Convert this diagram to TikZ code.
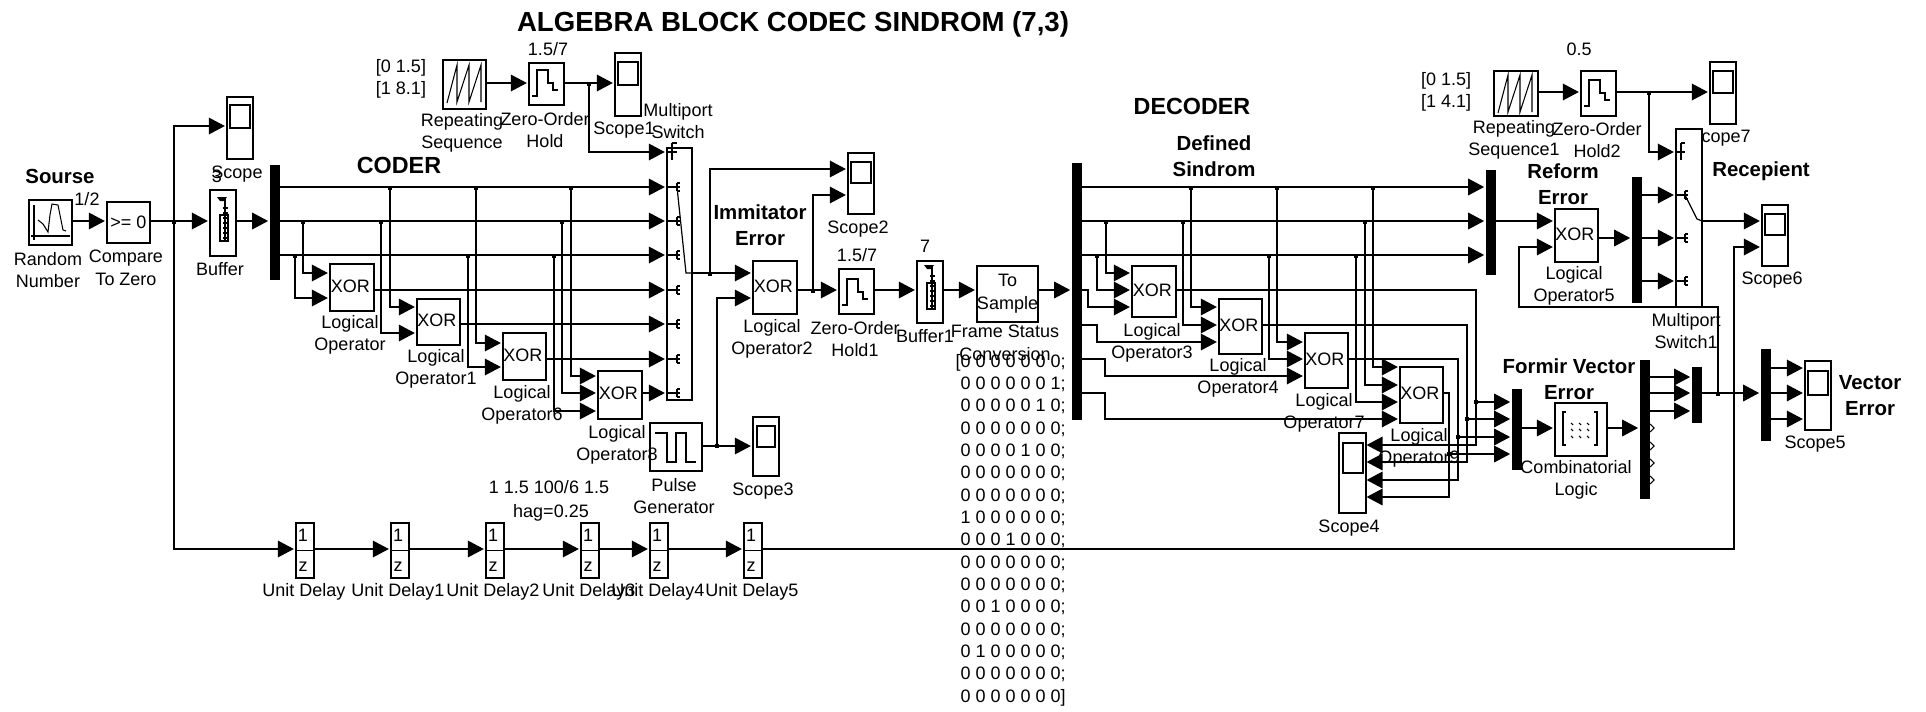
\documentclass[tikz,border=0pt]{standalone}
\usepackage{fontspec}
\setmainfont{Liberation Sans}
\usetikzlibrary{arrows.meta}
\tikzset{
  box/.style={draw=black,fill=white,line width=.85pt,inner sep=0pt,font=\fontsize{13.5}{17}\selectfont,align=center},
  barb/.style={draw=none,fill=black,inner sep=0pt},
  lbl/.style={inner sep=0pt,align=center,font=\fontsize{13.5}{17}\selectfont},
  blbl/.style={inner sep=0pt,align=center,font=\fontsize{15.3}{19.5}\selectfont\bfseries},
  conn/.style={line width=.9pt},
  arr/.style={conn,-{Triangle[length=12pt,width=12.5pt]},shorten >=1.2pt},
  jun/.style={fill=black,draw=none,inner sep=0pt,minimum size=3.4pt,rectangle},
  icon/.style={line width=.8pt},
}
\newcommand{\blk}[6][]{\pgfmathsetmacro\bw{(#5-#3)*0.75}\pgfmathsetmacro\bh{(#6-#4)*0.75}%
  \node[box,minimum width=\bw pt,minimum height=\bh pt] (#2) at ({(#3+#5)/2},{(#4+#6)/2}) {#1};}
\newcommand{\vbar}[5]{\pgfmathsetmacro\bw{(#4-#2)*0.75}\pgfmathsetmacro\bh{(#5-#3)*0.75}%
  \node[barb,minimum width=\bw pt,minimum height=\bh pt] (#1) at ({(#2+#4)/2},{(#3+#5)/2}) {};}
\newcommand{\jn}[3]{\node[jun] (#1) at (#2,#3) {};}
\newcommand{\xorl}{\raisebox{2.5pt}{XOR\hspace{2.5pt}}}
\newcommand{\sawicon}[2]{\draw[icon,shift={(#1,#2)}] (4,43)--(14,5)--(14,42)--(26,5)--(26,42)--(38,5)--(38,42);}
\newcommand{\zohicon}[2]{\draw[icon,shift={(#1,#2)}] (3,33)--(8,33)--(8,7)--(19,7)--(19,20)--(24,20)--(24,27)--(29,27);}
\newcommand{\bufficon}[2]{\begin{scope}[shift={(#1,#2)},icon]
  \draw (10,25) rectangle (18,51); \draw (15,8)--(15,50);
  \fill (7,7)--(17,7)--(14,11)--(10,11)--cycle;
  \foreach \t in {18,23,...,48}{\draw (13,\t)--(18,\t);}
\end{scope}}
\newcommand{\portmk}[2]{\draw[icon] (#1,#2-4)--(#1,#2+4) (#1,#2-4)--(#1+3,#2-4) (#1,#2)--(#1+3,#2) (#1,#2+4)--(#1+3,#2+4);}
\begin{document}
\begin{tikzpicture}[x=0.75pt,y=-0.75pt]
\useasboundingbox (0,0) rectangle (1926,711);
\foreach \v in {49,83,92,126,152,169,187,195,221,238,247,255,273,281,290,298,307,324,325,333,342,343,359,367,373,376,385,393,402,411,419,428,437,445,446,454,462,480,497,549,368,377}{\coordinate (r\v) at (0,\v);}

% --- labels that lie under blocks ---
\node[lbl] (lScope7) at (1720,138) {Scope7};

% --- blocks: coder ---
\blk{rn}{29}{200}{72}{245}
\blk[\raisebox{1pt}{>= 0}]{cz}{107}{202}{150}{243}
\blk{sc}{227}{97}{253}{159}
\blk{sci}{230}{105}{250}{128}
\blk{buf}{210}{190}{236}{256}
\vbar{dm1}{270}{165}{280}{280}
\blk[\xorl]{x1}{330}{264}{374}{311}
\blk[\xorl]{x2}{417}{299}{460}{345}
\blk[\xorl]{x6}{503}{333}{546}{380}
\blk[\xorl]{x8}{598}{371}{642}{419}
\blk{sw}{667}{148}{692}{400}
\blk{rs}{443}{60}{486}{109}
\blk{zh}{529}{63}{564}{105}
\blk{sc1}{615}{53}{641}{116}
\blk{sc1i}{618}{62}{638}{85}
\blk{sc2}{848}{153}{874}{214}
\blk{sc2i}{851}{162}{871}{183}
\blk[\xorl]{x2b}{753}{261}{797}{314}
\blk{zh1}{839}{269}{874}{314}
\blk{buf1}{917}{261}{943}{323}
\blk[{To\\Sample}]{ts}{977}{266}{1038}{322}
\blk{pg}{650}{423}{702}{471}
\blk{sc3}{753}{417}{779}{476}
\blk{sc3i}{757}{426}{775}{447}
\foreach \i/\xa in {1/296,2/391,3/486,4/581,5/650,6/744}{
  \pgfmathsetmacro\xb{\xa+18}
  \blk{ud\i}{\xa}{523}{\xb}{578}
  \draw[icon] (ud\i.west)--(ud\i.east);
  \node[lbl] (ud\i n) at (\xa+7,535) {1};
  \node[lbl] (ud\i d) at (\xa+7,567) {z};
}
% --- blocks: decoder ---
\vbar{dm2}{1072}{163}{1082}{420}
\vbar{mx3}{1486}{170}{1496}{275}
\blk[\xorl]{x3}{1132}{266}{1176}{317}
\blk[\xorl]{x4}{1219}{299}{1262}{354}
\blk[\xorl]{x7}{1305}{333}{1348}{388}
\blk[\xorl]{x9}{1400}{367}{1443}{423}
\blk{sc4}{1339}{433}{1366}{513}
\blk{sc4i}{1343}{443}{1363}{473}
\vbar{mx4}{1512}{389}{1522}{470}
\blk{cl}{1555}{403}{1607}{456}
\vbar{dm4}{1640}{360}{1650}{499}
\vbar{mx5}{1692}{367}{1702}{423}
\vbar{dm5}{1761}{349}{1771}{441}
\blk{sc5}{1805}{361}{1831}{430}
\blk{sc5i}{1808}{371}{1828}{395}
\blk{rs2}{1494}{71}{1538}{116}
\blk{zh2}{1581}{71}{1616}{116}
\blk{sc7}{1710}{62}{1736}{124}
\blk{sc7i}{1713}{71}{1733}{93}
\blk{sw1}{1676}{129}{1702}{307}
\blk[\xorl]{x5}{1555}{209}{1598}{262}
\vbar{dm6}{1632}{177}{1642}{303}
\blk{sc6}{1762}{205}{1788}{266}
\blk{sc6i}{1765}{214}{1785}{235}

% --- icons ---
\draw[icon] (34,205)--(34,240) (31,236)--(70,236);
\draw[icon] (38,220)--(43,224)--(48,232)--(50,215)--(52,204)--(58,205)--(60,215)--(63,230)--(66,231);
\sawicon{443}{60}
\sawicon{1494}{70}
\zohicon{529}{63}
\zohicon{839}{272}
\zohicon{1581}{73}
\bufficon{210}{190}
\bufficon{917}{258}
\draw[icon] (655,433)--(667,433)--(667,462)--(676,462)--(676,433)--(686,433)--(686,462)--(696,462);
\draw[icon] (1566,412)--(1563,412)--(1563,445)--(1566,445) (1594,412)--(1597,412)--(1597,445)--(1594,445);
\foreach \dx in {1571,1579,1587}{\foreach \dy in {423,429,436}{\draw[icon] (\dx,\dy)--(\dx+2,\dy+2);}}

% --- switch internals ---
\draw[icon] (672,143)--(672,160) (672,143)--(677,143) (667,152)--(677,152);
\foreach \p in {187,221,255,290,324,359,393}{\draw[icon] (667,\p)--(677,\p); \portmk{677}{\p}}
\draw[conn] (677,187)--(686,273)--(692,273);
\draw[icon] (1681,143)--(1681,160) (1681,143)--(1685,143) (1676,152)--(1685,152);
\foreach \p in {195,238,281}{\draw[icon] (1676,\p)--(1685,\p); \portmk{1685}{\p}}
\draw[conn] (1685,195)--(1697,219)--(1702,221);
\foreach \p in {428,446,463,480}{\draw[icon] (1650,\p-4)--(1654,\p)--(1650,\p+4);}

% --- coder connectors ---
\jn{j0}{174}{222}
\draw[arr] (rn.east|-r221)--(cz.west|-r221);
\draw[arr] (cz.east|-r221)--(buf.west|-r221);
\draw[arr] (buf.east|-r221)--(dm1.west|-r221);
\draw[arr] (j0.center)|-(sc.west|-r126);
\draw[arr] (j0.center)|-(ud1.west|-r549);
\draw[arr] (dm1.east|-r187)--(sw.west|-r187);
\draw[arr] (dm1.east|-r221)--(sw.west|-r221);
\draw[arr] (dm1.east|-r255)--(sw.west|-r255);
\jn{j1}{303}{222} \jn{j2}{295}{256}
\draw[arr] (j1.center)|-(x1.west|-r273);
\draw[arr] (j2.center)|-(x1.west|-r298);
\jn{j3}{390}{188} \jn{j4}{381}{222}
\draw[arr] (j3.center)|-(x2.west|-r307);
\draw[arr] (j4.center)|-(x2.west|-r333);
\jn{j5}{476}{188} \jn{j6}{468}{256}
\draw[arr] (j5.center)|-(x6.west|-r343);
\draw[arr] (j6.center)|-(x6.west|-r367);
\jn{j7}{571}{188} \jn{j8}{562}{222} \jn{j9}{554}{256}
\draw[arr] (j7.center)|-(x8.west|-r376);
\draw[arr] (j8.center)|-(x8.west|-r393);
\draw[arr] (j9.center)|-(x8.west|-r411);
\draw[arr] (x1.east|-r290)--(sw.west|-r290);
\draw[arr] (x2.east|-r324)--(sw.west|-r324);
\draw[arr] (x6.east|-r359)--(sw.west|-r359);
\draw[arr] (x8.east|-r393)--(sw.west|-r393);
\draw[arr] (rs.east|-r83)--(zh.west|-r83);
\draw[arr] (zh.east|-r83)--(sc1.west|-r83);
\jn{j10}{589}{84}
\draw[arr] (j10.center)|-(sw.west|-r152);
\coordinate (swo) at (692,273);
\draw[arr] (swo)--(x2b.west|-r273);
\jn{j11}{710}{274}
\draw[arr] (j11.center)|-(sc2.west|-r169);
\jn{j12}{813}{291}
\draw[arr] (j12.center)|-(sc2.west|-r195);
\draw[arr] (x2b.east|-r290)--(zh1.west|-r290);
\draw[arr] (zh1.east|-r290)--(buf1.west|-r290);
\draw[arr] (buf1.east|-r290)--(ts.west|-r290);
\draw[arr] (ts.east|-r290)--(dm2.west|-r290);
\draw[arr] (pg.east|-r446)--(sc3.west|-r446);
\jn{j13}{717}{446}
\draw[arr] (j13.center)|-(x2b.west|-r298);
\draw[arr] (ud1.east|-r549)--(ud2.west|-r549);
\draw[arr] (ud2.east|-r549)--(ud3.west|-r549);
\draw[arr] (ud3.east|-r549)--(ud4.west|-r549);
\draw[arr] (ud4.east|-r549)--(ud5.west|-r549);
\draw[arr] (ud5.east|-r549)--(ud6.west|-r549);
\coordinate (c6) at (1734,549);
\draw[arr] (ud6.east|-r549)--(c6)|-(sc6.west|-r247);

% --- decoder connectors ---
\draw[arr] (dm2.east|-r187)--(mx3.west|-r187);
\draw[arr] (dm2.east|-r221)--(mx3.west|-r221);
\draw[arr] (dm2.east|-r255)--(mx3.west|-r255);
\jn{d1}{1106}{222} \jn{d2}{1097}{256}
\draw[arr] (d1.center)|-(x3.west|-r273);
\draw[arr] (d2.center)|-(x3.west|-r290);
\coordinate (b1) at (1088,290);
\draw[arr] (dm2.east|-r290)--(b1)|-(x3.west|-r307);
\jn{d3}{1191}{188} \jn{d4}{1183}{222}
\draw[arr] (d3.center)|-(x4.west|-r307);
\draw[arr] (d4.center)|-(x4.west|-r325);
\coordinate (b2) at (1097,325);
\draw[arr] (dm2.east|-r325)--(b2)|-(x4.west|-r342);
\jn{d5}{1277}{188} \jn{d6}{1269}{256}
\draw[arr] (d5.center)|-(x7.west|-r342);
\draw[arr] (d6.center)|-(x7.west|-r359);
\coordinate (b3) at (1105,359);
\draw[arr] (dm2.east|-r359)--(b3)|-(x7.west|-r376);
\jn{d7}{1373}{188} \jn{d8}{1365}{222} \jn{d9}{1356}{256}
\draw[arr] (d7.center)|-(x9.west|-r367);
\draw[arr] (d8.center)|-(x9.west|-r385);
\draw[arr] (d9.center)|-(x9.west|-r402);
\coordinate (b4) at (1105,393);
\draw[arr] (dm2.east|-r393)--(b4)|-(x9.west|-r419);
\coordinate (o3) at (1476,445); \coordinate (o4) at (1467,462); \coordinate (o7) at (1458,480); \coordinate (o9) at (1449,497);
\draw[arr,shorten >=0pt] (x3.east|-r290)-|(o3)--(sc4.east|-r445);
\draw[arr,shorten >=0pt] (x4.east|-r325)-|(o4)--(sc4.east|-r462);
\draw[arr,shorten >=0pt] (x7.east|-r359)-|(o7)--(sc4.east|-r480);
\draw[arr,shorten >=0pt] (x9.east|-r393)-|(o9)--(sc4.east|-r497);
\jn{e1}{1476}{402} \jn{e2}{1467}{419} \jn{e3}{1458}{437} \jn{e4}{1449}{454}
\draw[arr] (e1.center)--(mx4.west|-r402);
\draw[arr] (e2.center)--(mx4.west|-r419);
\draw[arr] (e3.center)--(mx4.west|-r437);
\draw[arr] (e4.center)--(mx4.west|-r454);
\draw[arr] (mx4.east|-r428)--(cl.west|-r428);
\draw[arr] (cl.east|-r428)--(dm4.west|-r428);
\draw[arr] (dm4.east|-r377)--(mx5.west|-r377);
\draw[arr] (dm4.east|-r393)--(mx5.west|-r393);
\draw[arr] (dm4.east|-r411)--(mx5.west|-r411);
\draw[arr] (mx5.east|-r393)--(dm5.west|-r393);
\draw[arr] (dm5.east|-r368)--(sc5.west|-r368);
\draw[arr] (dm5.east|-r393)--(sc5.west|-r393);
\draw[arr] (dm5.east|-r419)--(sc5.west|-r419);
\jn{f1}{1718}{394}
\coordinate (c1) at (1519,307);
\draw[arr] (f1.center)|-(c1)|-(x5.west|-r247);
\draw[arr] (mx3.east|-r221)--(x5.west|-r221);
\draw[arr] (x5.east|-r238)--(dm6.west|-r238);
\draw[arr] (dm6.east|-r195)--(sw1.west|-r195);
\draw[arr] (dm6.east|-r238)--(sw1.west|-r238);
\draw[arr] (dm6.east|-r281)--(sw1.west|-r281);
\draw[arr] (sw1.east|-r221)--(sc6.west|-r221);
\draw[arr] (rs2.east|-r92)--(zh2.west|-r92);
\draw[arr] (zh2.east|-r92)--(sc7.west|-r92);
\jn{f2}{1649}{93}
\draw[arr] (f2.center)|-(sw1.west|-r152);

% --- labels ---
\node[inner sep=0pt,font=\fontsize{20.7}{25}\selectfont\bfseries] (title) at (793,24) {ALGEBRA BLOCK CODEC SINDROM (7,3)};
\node[blbl] (lSourse) at (60,176) {Sourse};
\node[lbl] (l12) at (87,199) {1/2};
\node[lbl] (lRandom) at (48,270) {Random\\Number};
\node[lbl] (lCompare) at (126,268) {Compare\\To Zero};
\node[lbl] (lScope) at (237,174) {Scope};
\node[lbl] (lThree) at (217,176) {3};
\node[lbl] (lBuffer) at (220,269) {Buffer};
\node[inner sep=0pt,font=\fontsize{17.5}{20}\selectfont\bfseries] (lCoder) at (399,165) {CODER};
\node[lbl] (lrs) at (401,79) {[0 1.5]\\{[1 8.1]}};
\node[lbl] (lRep) at (462,133) {Repeating\\Sequence};
\node[lbl] (lzt) at (548,49) {1.5/7};
\node[lbl] (lZoh) at (545,130) {Zero-Order\\Hold};
\node[lbl] (lScope1) at (624,130) {Scope1};
\node[lbl] (lMp) at (678,121) {Multiport\\Switch};
\node[blbl] (lImm) at (760,225) {Immitator\\Error};
\node[lbl] (lScope2) at (858,229) {Scope2};
\node[lbl] (lzt1) at (857,255) {1.5/7};
\node[lbl] (lseven) at (925,246) {7};
\node[lbl] (lOp2) at (772,339) {Logical\\Operator2};
\node[lbl] (lZoh1) at (855,339) {Zero-Order\\Hold1};
\node[lbl] (lBuf1) at (925,336) {Buffer1};
\node[lbl] (lFrame) at (1005,343) {Frame Status\\Conversion};
\node[lbl,align=right,anchor=east,font=\fontsize{13.5}{16.75}\selectfont] (lMat) at (1066,530) {[0 0 0 0 0 0 0;\\0 0 0 0 0 0 1;\\0 0 0 0 0 1 0;\\0 0 0 0 0 0 0;\\0 0 0 0 1 0 0;\\0 0 0 0 0 0 0;\\0 0 0 0 0 0 0;\\1 0 0 0 0 0 0;\\0 0 0 1 0 0 0;\\0 0 0 0 0 0 0;\\0 0 0 0 0 0 0;\\0 0 1 0 0 0 0;\\0 0 0 0 0 0 0;\\0 1 0 0 0 0 0;\\0 0 0 0 0 0 0;\\0 0 0 0 0 0 0]};
\node[lbl] (lOp) at (350,335) {Logical\\Operator};
\node[lbl] (lOp1) at (436,369) {Logical\\Operator1};
\node[lbl] (lOp6) at (522,405) {Logical\\Operator6};
\node[lbl] (lOp8) at (617,445) {Logical\\Operator8};
\node[lbl] (lPulse) at (674,496) {Pulse\\Generator};
\node[lbl] (lScope3) at (763,491) {Scope3};
\node[lbl] (lParam) at (549,487) {1 1.5 100/6 1.5};
\node[lbl] (lHag) at (551,513) {hag=0.25};
\node[lbl] (lUd) at (304,592) {Unit Delay};
\node[lbl] (lUd1) at (398,592) {Unit Delay1};
\node[lbl] (lUd2) at (493,592) {Unit Delay2};
\node[lbl] (lUd3) at (589,592) {Unit Delay3};
\node[lbl] (lUd4) at (658,592) {Unit Delay4};
\node[lbl] (lUd5) at (752,592) {Unit Delay5};
\node[inner sep=0pt,font=\fontsize{17.5}{20}\selectfont\bfseries] (lDec) at (1192,106) {DECODER};
\node[blbl] (lDef) at (1214,156) {Defined\\Sindrom};
\node[lbl] (lOp3) at (1152,343) {Logical\\Operator3};
\node[lbl] (lOp4) at (1238,378) {Logical\\Operator4};
\node[lbl] (lOp7) at (1324,413) {Logical\\Operator7};
\node[lbl] (lOp9) at (1419,448) {Logical\\Operator9};
\node[lbl] (lScope4) at (1349,528) {Scope4};
\node[blbl] (lForm) at (1569,379) {Formir Vector\\Error};
\node[lbl] (lComb) at (1576,480) {Combinatorial\\Logic};
\node[lbl] (lScope5) at (1815,444) {Scope5};
\node[blbl] (lVec) at (1870,396) {Vector\\Error};
\node[lbl] (lzs) at (1579,49) {0.5};
\node[lbl] (lrs2) at (1446,92) {[0 1.5]\\{[1 4.1]}};
\node[lbl] (lRep1) at (1514,140) {Repeating\\Sequence1};
\node[lbl] (lZoh2) at (1597,140) {Zero-Order\\Hold2};
\node[blbl] (lRef) at (1563,184) {Reform\\Error};
\node[blbl] (lRec) at (1761,171) {Recepient};
\node[lbl] (lOp5) at (1574,286) {Logical\\Operator5};
\node[lbl] (lScope6) at (1772,280) {Scope6};
\node[lbl] (lMp1) at (1686,331) {Multiport\\Switch1};
\end{tikzpicture}
\end{document}
